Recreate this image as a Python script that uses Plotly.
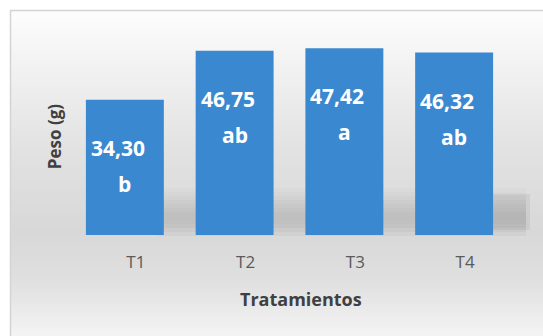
import plotly.graph_objects as go

categories = ["T1", "T2", "T3", "T4"]
values = [34.30, 46.75, 47.42, 46.32]
value_labels = ["34,30", "46,75", "47,42", "46,32"]
letters = ["b", "ab", "a", "ab"]

W, H = 543, 336
L, R, T, B = 70, 34, 38, 101
PW, PH = W - L - R, H - T - B

def px(x):
    return (x - L) / PW

def py(y):
    return (H - B - y) / PH

def hexmix(c1, c2, t):
    a = [int(c1[i:i + 2], 16) for i in (1, 3, 5)]
    b = [int(c2[i:i + 2], 16) for i in (1, 3, 5)]
    return "#" + "".join(f"{round(a[k] + (b[k] - a[k]) * t):02x}" for k in range(3))

shapes = []
# background gradient bands inside bordered box
stops = [(10, "#fdfdfd"), (60, "#f3f3f3"), (150, "#e2e2e2"), (230, "#d8d8d8"), (280, "#dfdfdf"), (336, "#f4f4f4")]
y = 10
step = 3
while y < 336:
    yc = y + step / 2
    for i in range(len(stops) - 1):
        if stops[i][0] <= yc <= stops[i + 1][0]:
            t = (yc - stops[i][0]) / (stops[i + 1][0] - stops[i][0])
            col = hexmix(stops[i][1], stops[i + 1][1], t)
            break
    shapes.append(dict(type="rect", xref="paper", yref="paper", x0=px(10), x1=px(545),
                       y0=py(y), y1=py(min(y + step, 337)), fillcolor=col, line_width=0, layer="below"))
    y += step

# floor shadow band behind bars (soft)
shadow = [(188, 0.02), (192, 0.04), (196, 0.07), (200, 0.10), (204, 0.13), (208, 0.16), (212, 0.18),
          (216, 0.19), (220, 0.18), (224, 0.15), (228, 0.10), (232, 0.05)]
for y0, op in shadow:
    shapes.append(dict(type="rect", xref="paper", yref="paper", x0=px(158), x1=px(526),
                       y0=py(y0), y1=py(y0 + 4), fillcolor=f"rgba(80,80,80,{op})", line_width=0, layer="below"))
shapes.append(dict(type="rect", xref="paper", yref="paper", x0=px(493), x1=px(530),
                   y0=py(194), y1=py(230), fillcolor="rgba(100,100,100,0.10)", line_width=0, layer="below"))

# border
shapes.append(dict(type="rect", xref="paper", yref="paper", x0=px(10.5), x1=px(560),
                   y0=py(10.5), y1=py(360), line=dict(color="#d4d4d4", width=1.5), fillcolor="rgba(0,0,0,0)", layer="below"))

fig = go.Figure(go.Bar(
    x=categories, y=values,
    marker=dict(color="#3a88cf", line=dict(width=0)),
    width=0.71,
))

annotations = []
for c, v, lab, let in zip(categories, values, value_labels, letters):
    annotations.append(dict(x=c, y=v, xref="x", yref="y", text=f"<b>{lab}</b>", showarrow=False,
                            yshift=-48, xshift=-7, font=dict(family="Open Sans", size=21, color="white")))
    annotations.append(dict(x=c, y=v, xref="x", yref="y", text=f"<b>{let}</b>", showarrow=False,
                            yshift=-84, xshift=0, font=dict(family="Open Sans", size=21, color="white")))

# x axis title (offset to the right like the 3D-perspective original)
annotations.append(dict(x=px(301), y=py(299), xref="paper", yref="paper", text="<b>Tratamientos</b>",
                        showarrow=False, xanchor="center", yanchor="middle",
                        font=dict(family="Open Sans", size=18, color="#404040")))

fig.update_layout(
    width=W, height=H,
    margin=dict(l=L, r=R, t=T, b=B),
    paper_bgcolor="white",
    plot_bgcolor="rgba(0,0,0,0)",
    showlegend=False,
    shapes=shapes,
    annotations=annotations,
    xaxis=dict(
        showgrid=False, zeroline=False, showline=False,
        ticks="outside", ticklen=12, tickcolor="rgba(0,0,0,0)",
        ticklabelshift=11,
        tickfont=dict(family="Open Sans", size=17, color="#5a5a5a"),
    ),
    yaxis=dict(
        range=[0, 50], showgrid=False, zeroline=False, showline=False,
        showticklabels=False, ticks="",
        title=dict(text="<b>Peso (g)</b>", standoff=3,
                   font=dict(family="Open Sans", size=17, color="#404040")),
    ),
)

fig.write_html("out.html")
